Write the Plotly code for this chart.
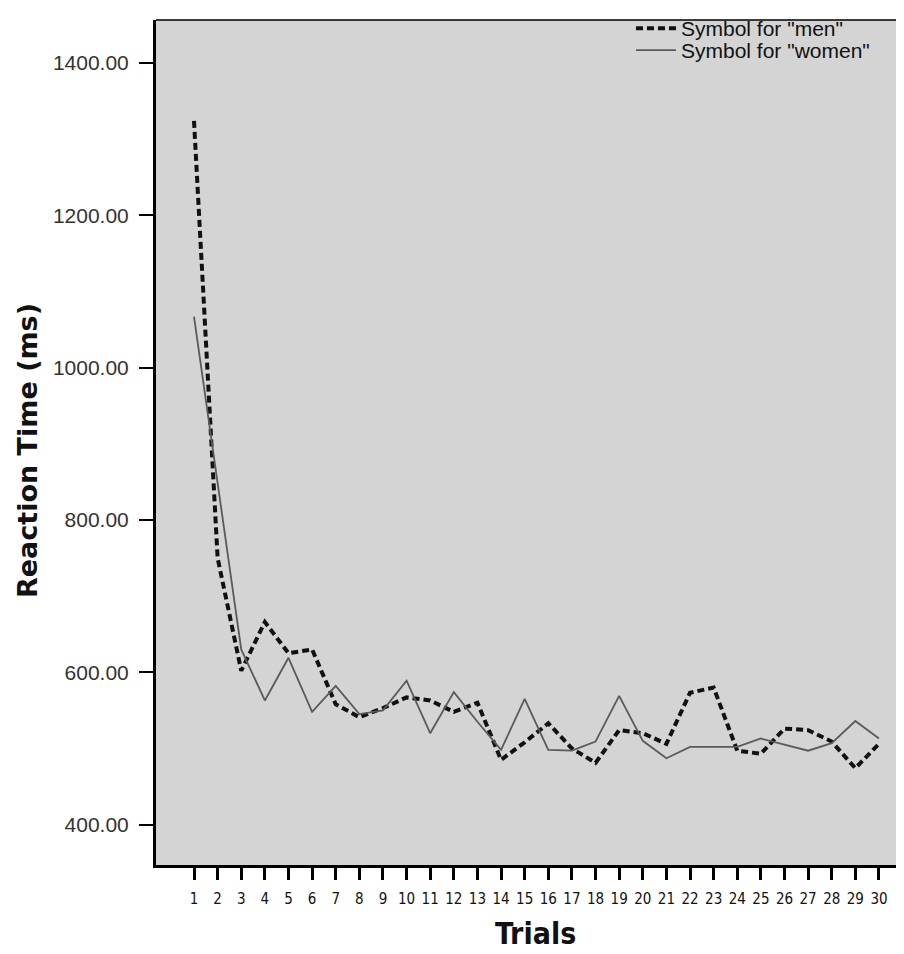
import plotly.graph_objects as go

trials = list(range(1, 31))
men = [1324, 750, 602, 666, 625, 630, 558, 541, 553, 567,
       563, 548, 560, 485, 508, 533, 500, 481, 524, 520,
       506, 573, 580, 497, 493, 526, 524, 509, 474, 506]
women = [1067, 850, 630, 563, 619, 548, 582, 545, 550, 589,
         520, 574, 535, 498, 565, 498, 497, 509, 569, 510,
         487, 502, 502, 502, 513, 505, 497, 507, 536, 513]
y_ticks = [400, 600, 800, 1000, 1200, 1400]

fig = go.Figure()
fig.add_trace(go.Scatter(x=trials, y=men, mode="lines", name='Symbol for "men"',
                         legend="legend",
                         line=dict(color="#111111", width=4, dash="7px,4px")))
fig.add_trace(go.Scatter(x=trials, y=women, mode="lines", name='Symbol for "women"',
                         legend="legend2",
                         line=dict(color="#5a5a5a", width=1.8)))

leg_common = dict(xanchor="left", yanchor="middle", bgcolor="rgba(0,0,0,0)",
                  font=dict(size=21, color="#111111", family="Liberation Sans, Arial"),
                  itemwidth=40, borderwidth=0)

fig.update_layout(
    width=896, height=946,
    margin=dict(l=148, r=0, t=0, b=89),
    paper_bgcolor="white", plot_bgcolor="#d4d4d4",
    font=dict(family="Liberation Sans, Arial, sans-serif", color="#222222"),
    showlegend=True,
    legend=dict(x=0.635, y=0.99, **leg_common),
    legend2=dict(x=0.635, y=0.964, **leg_common),
    xaxis=dict(range=[-0.609, 31.06], tickvals=trials, ticktext=[str(t) for t in trials],
               showgrid=False, zeroline=False, showline=True, linecolor="black", linewidth=3,
               ticks="outside", ticklen=12, tickwidth=3, tickcolor="black", ticklabelstandoff=6,
               tickfont=dict(size=15, color="#111111",
                             family="Liberation Sans Narrow, DejaVu Sans Condensed, Liberation Sans")),
    yaxis=dict(range=[346.9, 1456.6], tickvals=y_ticks, tickformat=".2f",
               showgrid=False, zeroline=False, showline=True, linecolor="black", linewidth=3,
               ticks="outside", ticklen=14, tickwidth=2, tickcolor="black", ticklabelstandoff=6,
               tickfont=dict(size=21, color="#333333")),
)
fig.add_annotation(text="<b>Trials</b>", xref="paper", yref="paper", x=0.507, y=-0.0805,
                   xanchor="center", yanchor="middle", showarrow=False,
                   font=dict(size=30, color="#111111",
                             family="Liberation Sans Narrow, DejaVu Sans Condensed, Liberation Sans"))
fig.add_annotation(text="<b>Reaction Time (ms)</b>", xref="paper", yref="paper", x=-0.171, y=0.49,
                   xanchor="center", yanchor="middle", showarrow=False, textangle=-90,
                   font=dict(size=27, color="#111111", family="DejaVu Sans, Liberation Sans"))
fig.add_shape(type="line", xref="paper", yref="paper", x0=0, x1=1, y0=1, y1=1,
              line=dict(color="black", width=1.5))

fig.write_html("out.html")
